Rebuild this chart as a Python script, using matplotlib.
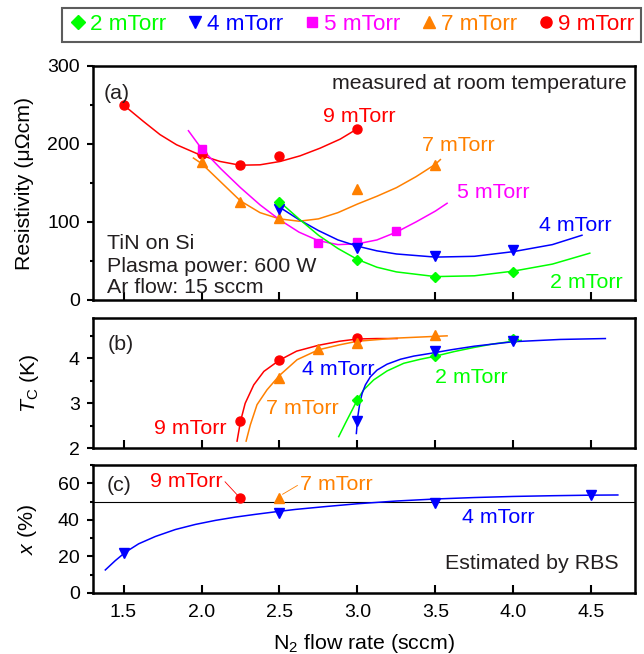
import matplotlib
matplotlib.use("Agg")
import matplotlib.pyplot as plt
from matplotlib.ticker import MultipleLocator
from matplotlib.lines import Line2D

plt.rcParams['font.family'] = ['Liberation Sans', 'DejaVu Sans']
plt.rcParams['mathtext.fontset'] = 'custom'
plt.rcParams['mathtext.rm'] = 'Liberation Sans'
plt.rcParams['mathtext.it'] = 'Liberation Sans:italic'

# colours of the series
c2, c4, c5, c7, c9 = '#00ff00', '#0000ff', '#ff00ff', '#ff8000', '#ff0000'
txt = '#231f20'

# ---- (a) resistivity, measured points
a9_x = [1.5, 2.0, 2.25, 2.5, 3.0]
a9_y = [250, 187, 173, 184, 219.5]
a7_x = [2.0, 2.25, 2.5, 3.0, 3.5]
a7_y = [177, 125, 105, 142.5, 173]
a5_x = [2.0, 2.75, 3.0, 3.25]
a5_y = [194, 73, 74, 89]
a4_x = [2.5, 3.0, 3.5, 4.0]
a4_y = [117, 67, 56, 64]
a2_x = [2.5, 3.0, 3.5, 4.0]
a2_y = [126, 51.5, 30, 36.5]

# (a) fitted curves
f9_x = [1.5, 1.627, 1.734, 1.84, 1.99, 2.119, 2.247, 2.375, 2.504, 2.632, 2.76, 2.889, 2.995]
f9_y = [250, 229, 212, 199, 186, 177.6, 172.8, 173.3, 177.6, 184.8, 194.6, 206.2, 219]
f7_x = [1.948, 2.0, 2.125, 2.25, 2.375, 2.5, 2.625, 2.75, 2.875, 3.0, 3.125, 3.25, 3.375, 3.5, 3.532]
f7_y = [182, 175, 151, 127, 112, 104, 101, 104, 112, 123, 133, 144, 158, 174, 180]
f5_x = [1.916, 2.0, 2.125, 2.25, 2.375, 2.5, 2.625, 2.75, 2.875, 3.0, 3.125, 3.25, 3.375, 3.5, 3.575]
f5_y = [217, 194, 168, 144, 122, 103, 87, 76, 71, 72, 77, 87, 100, 114, 124]
f4_x = [2.485, 2.625, 2.75, 2.875, 3.0, 3.125, 3.25, 3.5, 3.75, 4.0, 4.25, 4.44]
f4_y = [121, 103, 89, 77, 69, 63, 59, 55, 56, 62, 71, 83]
f2_x = [2.506, 2.625, 2.75, 2.875, 3.0, 3.125, 3.25, 3.5, 3.75, 4.0, 4.25, 4.49]
f2_y = [125, 104, 83, 66, 52, 42, 36, 30, 31, 37, 46, 60]

# ---- (b) Tc, measured points
b9_x = [2.25, 2.5, 3.0]
b9_y = [2.60, 3.96, 4.45]
b7_x = [2.5, 2.75, 3.0, 3.5]
b7_y = [3.56, 4.21, 4.35, 4.52]
b4_x = [3.0, 3.5, 4.0]
b4_y = [2.60, 4.16, 4.39]
b2_x = [3.0, 3.5, 4.0]
b2_y = [3.08, 4.05, 4.42]

# (b) fitted curves
g9_x = [2.228, 2.25, 2.28, 2.335, 2.40, 2.5, 2.61, 2.75, 2.885, 3.0, 3.125, 3.254]
g9_y = [2.16, 2.60, 3.00, 3.41, 3.71, 3.96, 4.16, 4.29, 4.38, 4.43, 4.44, 4.44]
g7_x = [2.286, 2.313, 2.356, 2.42, 2.5, 2.613, 2.75, 2.885, 3.0, 3.25, 3.575]
g7_y = [2.16, 2.52, 2.97, 3.30, 3.62, 3.97, 4.19, 4.30, 4.38, 4.45, 4.50]
g4_x = [2.993, 3.002, 3.015, 3.03, 3.051, 3.083, 3.126, 3.19, 3.276, 3.361, 3.468, 3.6, 3.75, 4.0, 4.3, 4.59]
g4_y = [2.33, 2.70, 3.00, 3.22, 3.41, 3.59, 3.74, 3.87, 3.98, 4.05, 4.11, 4.19, 4.27, 4.37, 4.42, 4.44]
g2_x = [2.88, 2.923, 2.966, 2.998, 3.04, 3.104, 3.19, 3.297, 3.404, 3.49, 3.62, 3.745, 3.87, 4.0, 4.05]
g2_y = [2.26, 2.56, 2.85, 3.07, 3.30, 3.52, 3.72, 3.89, 3.98, 4.04, 4.15, 4.24, 4.32, 4.38, 4.40]

# ---- (c) x from RBS
c4_x = [1.5, 2.5, 3.5, 4.5]
c4_y = [21.9, 43.9, 49.4, 53.6]
c9_x = [2.25]
c9_y = [51.8]
c7_x = [2.5]
c7_y = [51.8]
h4_x = [1.383, 1.447, 1.512, 1.597, 1.704, 1.832, 1.961, 2.089, 2.217, 2.345, 2.474, 2.602,
        2.8, 3.0, 3.25, 3.5, 3.75, 4.0, 4.25, 4.5, 4.67]
h4_y = [12.6, 17.7, 22.3, 26.9, 30.9, 34.7, 37.5, 39.7, 41.5, 43.0, 44.4, 45.7,
        47.3, 48.8, 50.3, 51.4, 52.2, 52.8, 53.2, 53.5, 53.6]

legend_labels = ['2 mTorr', '4 mTorr', '5 mTorr', '7 mTorr', '9 mTorr']

fig = plt.figure(figsize=(6.44, 6.54), dpi=100)
axa = fig.add_axes([0.1444, 0.5413, 0.8416, 0.3578])
axb = fig.add_axes([0.1444, 0.3145, 0.8416, 0.1988])
axc = fig.add_axes([0.1444, 0.0933, 0.8416, 0.1957])

lw = 1.1
mk = dict(D=dict(marker='D', ms=5.5), v=dict(marker='v', ms=7.5), s=dict(marker='s', ms=6),
          t=dict(marker='^', ms=7.5), o=dict(marker='o', ms=6.5))
fs = 15.4

# panel (a)
axa.plot(f9_x, f9_y, color=c9, lw=lw)
axa.plot(f7_x, f7_y, color=c7, lw=lw)
axa.plot(f5_x, f5_y, color=c5, lw=lw)
axa.plot(f4_x, f4_y, color=c4, lw=lw)
axa.plot(f2_x, f2_y, color=c2, lw=lw)
axa.plot(a9_x, a9_y, ls='none', color=c9, **mk['o'])
axa.plot(a7_x, a7_y, ls='none', color=c7, **mk['t'])
axa.plot(a5_x, a5_y, ls='none', color=c5, **mk['s'])
axa.plot(a4_x, a4_y, ls='none', color=c4, **mk['v'])
axa.plot(a2_x, a2_y, ls='none', color=c2, **mk['D'])
axa.set_ylim(0, 300)
axa.yaxis.set_major_locator(MultipleLocator(100))
axa.yaxis.set_minor_locator(MultipleLocator(50))
axa.set_ylabel('Resistivity (μΩcm)', fontsize=fs)
axa.yaxis.set_label_coords(-0.108, 0.5)

axa.text(1.37, 258, '(a)', fontsize=fs, color=txt, ha='left', va='baseline')
axa.text(4.73, 271, 'measured at room temperature', fontsize=fs, color=txt, ha='right', va='baseline')
axa.text(3.01, 228, '9 mTorr', fontsize=fs, color=c9, ha='center', va='baseline')
axa.text(3.65, 191, '7 mTorr', fontsize=fs, color=c7, ha='center', va='baseline')
axa.text(3.87, 131, '5 mTorr', fontsize=fs, color=c5, ha='center', va='baseline')
axa.text(4.395, 88, '4 mTorr', fontsize=fs, color=c4, ha='center', va='baseline')
axa.text(4.47, 15.6, '2 mTorr', fontsize=fs, color=c2, ha='center', va='baseline')
axa.text(1.394, 65.6, 'TiN on Si', fontsize=fs, color=txt, ha='left', va='baseline')
axa.text(1.394, 35.6, 'Plasma power: 600 W', fontsize=fs, color=txt, ha='left', va='baseline')
axa.text(1.394, 9.2, 'Ar flow: 15 sccm', fontsize=fs, color=txt, ha='left', va='baseline')

# panel (b)
axb.plot(g9_x, g9_y, color=c9, lw=lw)
axb.plot(g7_x, g7_y, color=c7, lw=lw)
axb.plot(g2_x, g2_y, color=c2, lw=lw)
axb.plot(g4_x, g4_y, color=c4, lw=lw)
axb.plot(b9_x, b9_y, ls='none', color=c9, **mk['o'])
axb.plot(b7_x, b7_y, ls='none', color=c7, **mk['t'])
axb.plot(b2_x, b2_y, ls='none', color=c2, **mk['D'])
axb.plot(b4_x, b4_y, ls='none', color=c4, **mk['v'])
axb.set_ylim(2, 4.89)
axb.yaxis.set_major_locator(MultipleLocator(1))
axb.yaxis.set_minor_locator(MultipleLocator(0.5))
axb.set_ylabel(r'$T_\mathrm{C}$ (K)', fontsize=fs)
axb.yaxis.set_label_coords(-0.096, 0.5)
axb.text(1.40, 4.19, '(b)', fontsize=fs, color=txt, ha='left', va='baseline')
axb.text(1.927, 2.31, '9 mTorr', fontsize=fs, color=c9, ha='center', va='baseline')
axb.text(2.645, 2.76, '7 mTorr', fontsize=fs, color=c7, ha='center', va='baseline')
axb.text(2.878, 3.62, '4 mTorr', fontsize=fs, color=c4, ha='center', va='baseline')
axb.text(3.73, 3.45, '2 mTorr', fontsize=fs, color=c2, ha='center', va='baseline')

# panel (c)
axc.axhline(50, color='black', lw=0.8)
axc.plot(h4_x, h4_y, color=c4, lw=lw)
axc.plot(c4_x, c4_y, ls='none', color=c4, **mk['v'])
axc.plot(c9_x, c9_y, ls='none', color=c9, **mk['o'])
axc.plot(c7_x, c7_y, ls='none', color=c7, **mk['t'])
axc.plot([2.151, 2.236], [60.8, 53.0], color=c9, lw=0.6)
axc.plot([2.615, 2.52], [58.8, 54.0], color=c7, lw=0.6)
axc.set_ylim(0, 70)
axc.yaxis.set_major_locator(MultipleLocator(20))
axc.yaxis.set_minor_locator(MultipleLocator(10))
axc.set_ylabel(r'$x$ (%)', fontsize=fs)
axc.yaxis.set_label_coords(-0.100, 0.5)
axc.set_xlabel(r'N$_2$ flow rate (sccm)', fontsize=fs, labelpad=8)
axc.text(1.39, 55.8, '(c)', fontsize=fs, color=txt, ha='left', va='baseline')
axc.text(1.905, 58, '9 mTorr', fontsize=fs, color=c9, ha='center', va='baseline')
axc.text(2.867, 56.2, '7 mTorr', fontsize=fs, color=c7, ha='center', va='baseline')
axc.text(3.90, 38.2, '4 mTorr', fontsize=fs, color=c4, ha='center', va='baseline')
axc.text(4.673, 13.1, 'Estimated by RBS', fontsize=fs, color=txt, ha='right', va='baseline')

for ax in (axa, axb, axc):
    ax.set_xlim(1.304, 4.78)
    ax.xaxis.set_major_locator(MultipleLocator(0.5))
    ax.tick_params(axis='x', which='major', direction='in', length=6, width=1.5, labelsize=14, pad=8)
    ax.tick_params(axis='y', which='major', direction='out', length=4.5, width=1.5, labelsize=14, pad=5)
    ax.tick_params(axis='y', which='minor', direction='out', length=2.5, width=1.5)
    for s in ax.spines.values():
        s.set_linewidth(1.8)
axa.tick_params(axis='x', labelbottom=False)
axb.tick_params(axis='x', labelbottom=False)

# legend across the top
handles = [Line2D([], [], ls='none', color=c2, marker='D', ms=7),
           Line2D([], [], ls='none', color=c4, marker='v', ms=9),
           Line2D([], [], ls='none', color=c5, marker='s', ms=7),
           Line2D([], [], ls='none', color=c7, marker='^', ms=9),
           Line2D([], [], ls='none', color=c9, marker='o', ms=8)]
leg = fig.legend(handles, legend_labels, loc='lower left',
                 bbox_to_anchor=(62 / 644, 1 - 42 / 654, 579 / 644, 35 / 654),
                 mode='expand', ncol=5, fontsize=16.2, frameon=True, fancybox=False,
                 edgecolor='#333333', handlelength=0.8, handletextpad=0.15,
                 columnspacing=0.5, borderpad=0.3, borderaxespad=0,
                 labelcolor='markerfacecolor')
leg.get_frame().set_linewidth(1.5)

fig.savefig('out.png', dpi=100)
